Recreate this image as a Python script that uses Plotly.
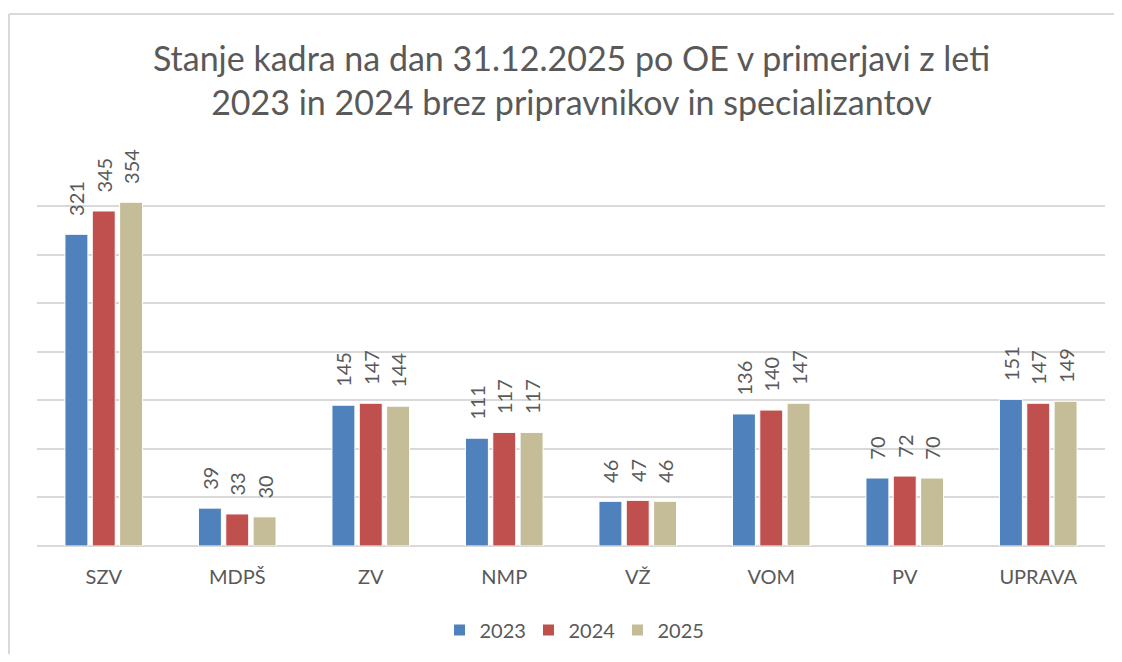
import plotly.graph_objects as go

categories = ["SZV", "MDPŠ", "ZV", "NMP", "VŽ", "VOM", "PV", "UPRAVA"]
series_names = ["2023", "2024", "2025"]
v2023 = [321, 39, 145, 111, 46, 136, 70, 151]
v2024 = [345, 33, 147, 117, 47, 140, 72, 147]
v2025 = [354, 30, 144, 117, 46, 147, 70, 149]
colors = ["#4F81BD", "#C0504D", "#C4BD97"]

OFF = 8  # page body margin
W, H = 1122 - 2 * OFF, 662 - 2 * OFF
L, R, T, B = 37 - OFF, W - (1105 - OFF), 157 - OFF, H - (546 - OFF)
FONT = "Lato"
TXT = "#595959"
PAD = "\u00a0\u00a0\u00a0"

fig = go.Figure()
for name, vals, col in zip(series_names, [v2023, v2024, v2025], colors):
    fig.add_trace(go.Bar(
        x=categories, y=vals, name=name,
        marker=dict(color=col, line=dict(color="white", width=1)),
        text=[PAD + str(v) for v in vals], textposition="outside", textangle=-90,
        textfont=dict(family=FONT, size=20, color=TXT),
        constraintext="none",
        cliponaxis=False,
    ))

pw = W - L - R
ph = H - T - B
bx = (1 - L) / pw
by = (H - B - (14 - OFF)) / ph
fig.add_shape(type="line", xref="paper", yref="paper", x0=bx, x1=1.5, y0=by, y1=by,
              line=dict(color="#D9D9D9", width=2), layer="below")
fig.add_shape(type="line", xref="paper", yref="paper", x0=bx, x1=bx, y0=-1.5, y1=by,
              line=dict(color="#D9D9D9", width=2), layer="below")

fig.update_layout(
    width=W, height=H,
    margin=dict(l=L, r=R, t=T, b=B, autoexpand=False),
    paper_bgcolor="white", plot_bgcolor="white",
    barmode="group", bargap=0.386, bargroupgap=0.16,
    title=dict(
        text="Stanje kadra na dan 31.12.2025 po OE v primerjavi z leti<br>2023 in 2024 brez pripravnikov in specializantov",
        x=(571.5 - OFF) / W, xanchor="center", y=1 - 63 / H, yanchor="top", yref="container",
        font=dict(family=FONT, size=34, color=TXT),
    ),
    xaxis=dict(showline=False, tickfont=dict(family=FONT, size=20, color=TXT), ticks="",
               ticklabelstandoff=17, automargin=False),
    yaxis=dict(range=[0, 400.6], dtick=50, showticklabels=False, gridcolor="#D9D9D9", gridwidth=1.5,
               zeroline=True, zerolinecolor="#D9D9D9", zerolinewidth=1.5, automargin=False),
    legend=dict(orientation="h", x=(573 - OFF - L) / pw, xanchor="center",
                y=-(630 - 546) / ph, yanchor="middle",
                entrywidth=44, entrywidthmode="pixels",
                font=dict(family=FONT, size=20, color=TXT)),
    showlegend=True,
)

fig.write_html("out.html")
